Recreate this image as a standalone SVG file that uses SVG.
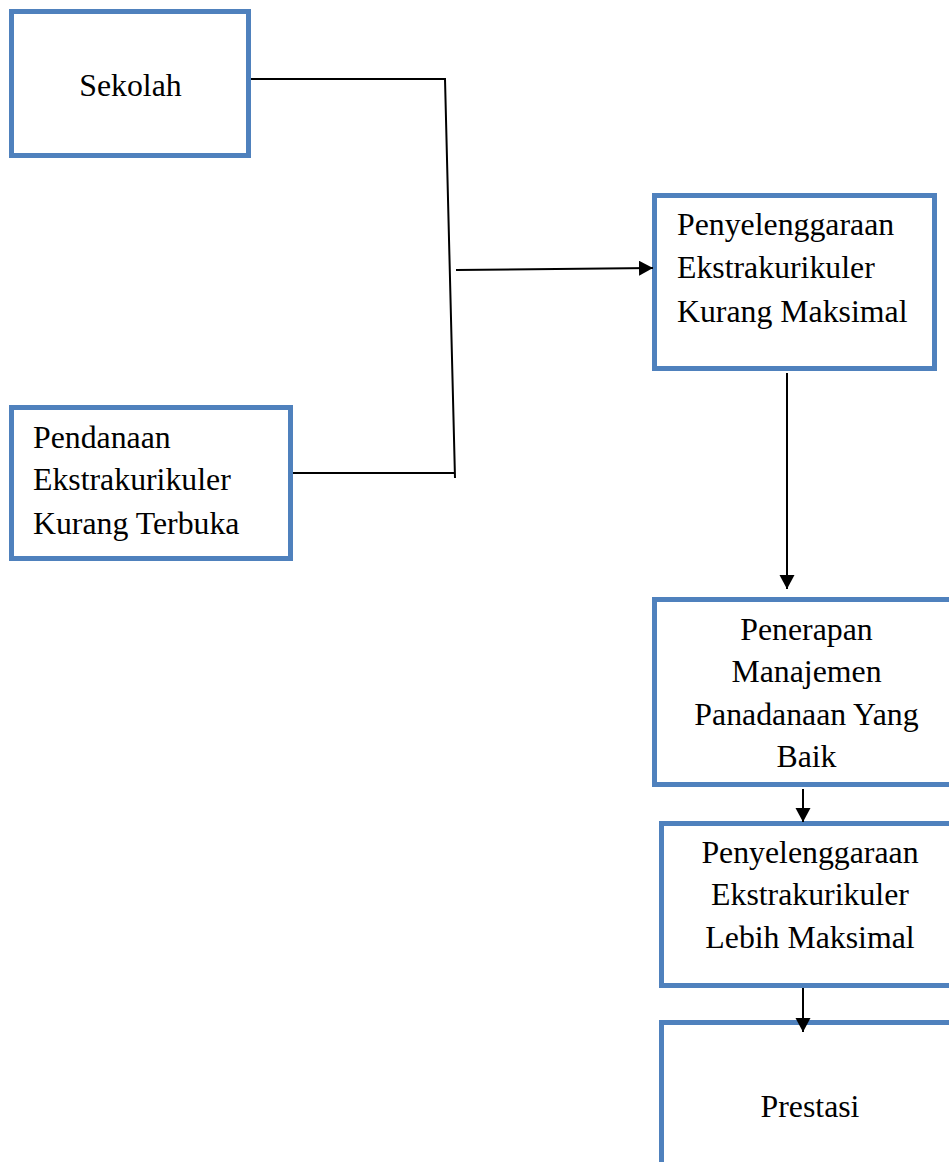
<svg xmlns="http://www.w3.org/2000/svg" width="949" height="1162" viewBox="0 0 949 1162">
  <style>
    .box { fill: #ffffff; stroke: #4F81BD; stroke-width: 5; }
    .t { font-family: "Liberation Serif", "Times New Roman", serif; font-size: 31.8px; fill: #000000; }
    .c { text-anchor: middle; }
    .ln { fill: none; stroke: #000000; stroke-width: 2; }
  </style>
  <defs>
    <marker id="arr" markerUnits="userSpaceOnUse" markerWidth="15" markerHeight="16" refX="14" refY="7.5" orient="auto">
      <path d="M0,0 L14,7.5 L0,15 z" fill="#000000"/>
    </marker>
  </defs>
  <rect width="949" height="1162" fill="#ffffff"/>

  <g id="node-sekolah">
    <rect class="box" x="11.5" y="11.5" width="237" height="144"/>
    <text class="t c" x="130.5" y="96">Sekolah</text>
  </g>

  <g id="node-pendanaan">
    <rect class="box" x="11.5" y="407.5" width="279" height="151"/>
    <text class="t" x="33" y="448">Pendanaan</text>
    <text class="t" x="33" y="490">Ekstrakurikuler</text>
    <text class="t" x="33" y="534">Kurang Terbuka</text>
  </g>

  <g id="node-kurang-maksimal">
    <rect class="box" x="654.5" y="195.5" width="280" height="173"/>
    <text class="t" x="677" y="235">Penyelenggaraan</text>
    <text class="t" x="677" y="278">Ekstrakurikuler</text>
    <text class="t" x="677" y="322">Kurang Maksimal</text>
  </g>

  <g id="node-penerapan">
    <rect class="box" x="654.5" y="599.5" width="320" height="185"/>
    <text class="t c" x="806.5" y="640">Penerapan</text>
    <text class="t c" x="806.5" y="682">Manajemen</text>
    <text class="t c" x="806.5" y="725">Panadanaan Yang</text>
    <text class="t c" x="806.5" y="767">Baik</text>
  </g>

  <g id="node-lebih-maksimal">
    <rect class="box" x="661.5" y="823.5" width="320" height="162"/>
    <text class="t c" x="810" y="863">Penyelenggaraan</text>
    <text class="t c" x="810" y="905">Ekstrakurikuler</text>
    <text class="t c" x="810" y="948">Lebih Maksimal</text>
  </g>

  <g id="node-prestasi">
    <rect class="box" x="661.5" y="1022.5" width="320" height="200"/>
    <text class="t c" x="810" y="1117">Prestasi</text>
  </g>

  <g id="connectors">
    <polyline class="ln" points="251,79 445,79 455,478"/>
    <line class="ln" x1="293" y1="473" x2="455" y2="473"/>
    <line class="ln" x1="456" y1="270" x2="653" y2="268" marker-end="url(#arr)"/>
    <line class="ln" x1="787" y1="373" x2="787" y2="589" marker-end="url(#arr)"/>
    <line class="ln" x1="803" y1="789" x2="803" y2="822" marker-end="url(#arr)"/>
    <line class="ln" x1="803" y1="988" x2="803" y2="1032" marker-end="url(#arr)"/>
  </g>
</svg>
